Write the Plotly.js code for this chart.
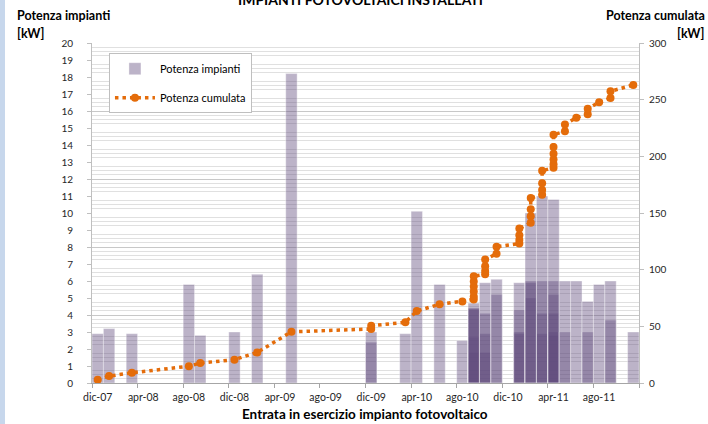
<!DOCTYPE html>
<html><head><meta charset="utf-8">
<script src="https://cdn.plot.ly/plotly-3.0.1.min.js"></script>
<style>
html,body{margin:0;padding:0;}
body{background:linear-gradient(to right,#c7d7ec 0,#c7d7ec 5px,#ffffff 5px);}
#chart{width:708px;height:424px;}
</style></head>
<body><div id="chart"></div>
<script>
// Installation month of each plant (one entry per plant)
const installMonth = [
 '2007-12','2008-01','2008-03','2008-08','2008-09','2008-12','2009-02','2009-05',
 '2009-12','2009-12','2010-03','2010-04','2010-06','2010-08',
 '2010-09','2010-09','2010-09','2010-09','2010-09','2010-09',
 '2010-10','2010-10','2010-10','2010-10',
 '2010-11','2010-11',
 '2011-01','2011-01','2011-01','2011-01',
 '2011-02','2011-02','2011-02','2011-02',
 '2011-03','2011-03','2011-03','2011-03',
 '2011-04','2011-04','2011-04','2011-04','2011-04','2011-04',
 '2011-05','2011-05','2011-06','2011-07','2011-07','2011-08',
 '2011-09','2011-09','2011-11'
];
// Power of each plant [kW]
const plantKW = [
 2.9,3.2,2.9,5.8,2.8,3.0,6.4,18.2,
 2.4,3.0,2.9,10.1,5.8,2.5,
 1.8,2.7,4.3,4.4,4.4,4.7,
 1.8,2.9,4.1,5.9,
 5.2,6.1,
 2.9,3.0,4.3,5.9,
 5.0,5.9,6.0,10.0,
 2.9,4.1,6.0,11.0,
 2.8,3.0,4.1,5.2,6.0,10.8,
 3.0,6.0,6.0,3.0,4.8,5.8,
 3.7,6.0,3.0
];
// Cumulated power [kW] as read on the right axis
const cumulKW = [
 2.9,6.1,9.0,14.8,17.6,20.6,27.0,45.2,
 47.6,50.6,53.5,63.6,69.4,71.9,
 73.7,76.4,80.7,85.1,89.5,94.2,
 96.0,98.9,103.0,108.9,
 114.1,120.2,
 123.1,126.1,130.4,136.3,
 141.3,147.2,153.2,163.2,
 166.1,170.2,176.2,187.2,
 190.0,193.0,197.1,202.3,208.3,219.1,
 222.1,228.1,234.1,237.1,241.9,247.7,
 251.4,257.4,263.0
];
const tickMonths = ['2007-12','2008-04','2008-08','2008-12','2009-04','2009-08',
                    '2009-12','2010-04','2010-08','2010-12','2011-04','2011-08'];
const tickLabels = ['dic-07','apr-08','ago-08','dic-08','apr-09','ago-09',
                    'dic-09','apr-10','ago-10','dic-10','apr-11','ago-11'];

function monthIndex(s){ const p=s.split('-').map(Number); return (p[0]-2007)*12 + (p[1]-12); }
const xs = installMonth.map(monthIndex);
const tv = tickMonths.map(monthIndex);

const FONT = 'Lato, "Open Sans", sans-serif';

const bars = {
  type:'bar', name:'Potenza impianti', x:xs, y:plantKW, width:1,
  marker:{color:'rgba(96,74,123,0.42)', line:{color:'rgba(255,255,255,0.45)', width:0.8}},
  legendgroup:'a', hoverinfo:'skip'
};
const line = {
  type:'scatter', mode:'lines+markers', name:'Potenza cumulata', x:xs, y:cumulKW, yaxis:'y2',
  line:{color:'#e46c0a', width:3.5, dash:'3.5px,4px'},
  marker:{color:'#e46c0a', size:8, symbol:'circle'},
  legendgroup:'b', hoverinfo:'skip'
};

const L = 92, T = 43, W = 547, H = 340;
function px(x){ return (x-L)/W; }
function py(y){ return (T+H-y)/H; }

const layout = {
  width:708, height:424,
  margin:{l:92, r:69, t:43, b:41},
  paper_bgcolor:'rgba(0,0,0,0)', plot_bgcolor:'#ffffff',
  font:{family:FONT, color:'#262626'},
  barmode:'overlay', bargap:0,
  showlegend:true,
  legend:{x:0.031, y:0.97, xanchor:'left', yanchor:'top', bgcolor:'#ffffff',
          bordercolor:'#bfbfbf', borderwidth:1, traceorder:'grouped', tracegroupgap:10,
          itemwidth:40,
          font:{family:FONT, size:11, color:'#000'}},
  xaxis:{range:[-0.5,47.5], tickmode:'array', tickvals:tv, ticktext:tickLabels,
         ticks:'outside', ticklen:4, tickcolor:'rgba(0,0,0,0)',
         minor:{tick0:-0.5, dtick:4, ticks:'outside', ticklen:4, tickcolor:'#a6a6a6', showgrid:false},
         showline:true, linecolor:'#a6a6a6', linewidth:1, showgrid:false, zeroline:false,
         tickfont:{family:FONT, size:10.5, color:'#262626'}, fixedrange:true},
  yaxis:{range:[0,20], dtick:1, ticks:'outside', ticklen:4, tickcolor:'#bfbfbf',
         showline:true, linecolor:'#bfbfbf', showgrid:false, zeroline:false,
         minor:{dtick:0.25, showgrid:true, gridcolor:'#e0e0e0', gridwidth:1, ticks:''},
         ticklabelstandoff:12,
         tickfont:{family:FONT, size:10, color:'#262626'}},
  yaxis3:{range:[0,20], overlaying:'y', dtick:4, showgrid:true, gridcolor:'#c8c8c8',
          showticklabels:false, ticks:'', showline:false, zeroline:false},
  yaxis2:{range:[0,300], dtick:50, overlaying:'y', side:'right', ticks:'outside', ticklen:4,
          tickcolor:'#bfbfbf', showline:true, linecolor:'#bfbfbf', showgrid:false, zeroline:false,
          ticklabelstandoff:3,
          tickfont:{family:FONT, size:10, color:'#262626'}},
  annotations:[
    {text:'<b>IMPIANTI FOTOVOLTAICI INSTALLATI</b>', xref:'paper', yref:'paper',
     x:px(360), y:py(-1), xanchor:'center', yanchor:'middle', showarrow:false,
     font:{family:FONT, size:14, color:'#000'}},
    {text:'<b>Potenza impianti</b>', xref:'paper', yref:'paper', x:px(15), y:py(15),
     xanchor:'left', yanchor:'middle', showarrow:false, font:{family:FONT, size:12.5, color:'#000'}},
    {text:'<b>[kW]</b>', xref:'paper', yref:'paper', x:px(15), y:py(33),
     xanchor:'left', yanchor:'middle', showarrow:false, font:{family:FONT, size:12.5, color:'#000'}},
    {text:'<b>Potenza cumulata</b>', xref:'paper', yref:'paper', x:px(707), y:py(15),
     xanchor:'right', yanchor:'middle', showarrow:false, font:{family:FONT, size:12.5, color:'#000'}},
    {text:'<b>[kW]</b>', xref:'paper', yref:'paper', x:px(706), y:py(33),
     xanchor:'right', yanchor:'middle', showarrow:false, font:{family:FONT, size:12.5, color:'#000'}},
    {text:'<b>Entrata in esercizio impianto fotovoltaico</b>', xref:'paper', yref:'paper',
     x:px(365), y:py(414), xanchor:'center', yanchor:'middle', showarrow:false,
     font:{family:FONT, size:13.5, color:'#000'}}
  ]
};

// grid-only axis attached to an invisible trace so its gridlines render
const gridTrace = {type:'scatter', x:[0], y:[0], yaxis:'y3', mode:'markers',
  marker:{opacity:0}, showlegend:false, hoverinfo:'skip'};

Plotly.newPlot('chart', [gridTrace, bars, line], layout, {displayModeBar:false, staticPlot:true});
</script>
</body></html>
